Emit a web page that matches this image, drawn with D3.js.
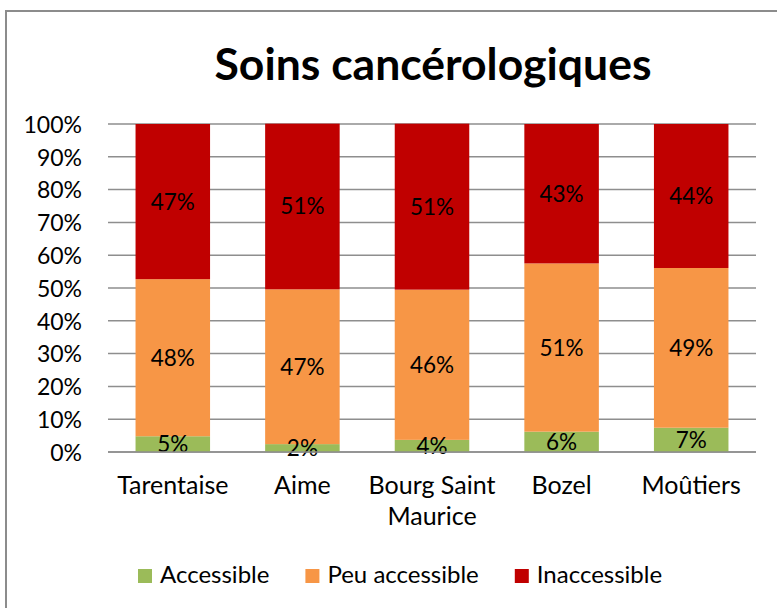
<!DOCTYPE html>
<html>
<head>
<meta charset="utf-8">
<script src="https://cdn.jsdelivr.net/npm/d3@7"></script>
<style>
  body { margin: 0; background: #ffffff; }
  svg { display: block; font-family: Lato, "Open Sans", sans-serif; }
</style>
</head>
<body>
<svg id="chart" width="777" height="608"></svg>
<script>
// data (percent of each area)
const categories = ['Tarentaise', 'Aime', 'Bourg Saint Maurice', 'Bozel', 'Moûtiers']
const accessible = [4.8, 2.4, 3.7, 6.2, 7.4]
const peuAccessible = [47.9, 47.2, 45.8, 51.3, 48.7]
const inaccessible = [47.3, 50.5, 50.6, 42.5, 43.9]
const seriesNames = ['Accessible', 'Peu accessible', 'Inaccessible']
const seriesColors = ['#9bbb59', '#f79646', '#c00000']
const yTicks = [0, 10, 20, 30, 40, 50, 60, 70, 80, 90, 100]
const title = 'Soins cancérologiques'

const svg = d3.select('#chart')
const plotLeft = 108, plotRight = 756, plotTop = 124, plotBottom = 452

// chart frame
svg.append('rect')
  .attr('x', 6).attr('y', 11).attr('width', 800).attr('height', 640)
  .attr('fill', 'none').attr('stroke', '#8c8c8c').attr('stroke-width', 2)

svg.append('text')
  .attr('x', 433).attr('y', 80)
  .attr('text-anchor', 'middle')
  .style('font-size', '44.5px').style('font-weight', 'bold')
  .text(title)

let x = d3.scaleBand().domain(categories).range([plotLeft, plotRight])
  .paddingInner(0.425).paddingOuter(0.2125)
let y = d3.scaleLinear().domain([0, 100]).range([plotBottom, plotTop])

// gridlines
svg.append('g').selectAll('line').data(yTicks).join('line')
  .attr('x1', plotLeft).attr('x2', plotRight)
  .attr('y1', d => y(d)).attr('y2', d => y(d))
  .attr('stroke', '#8e8e8e').attr('stroke-width', 1.5)

let yAxis = svg.append('g')
  .attr('transform', `translate(${plotLeft},0)`)
  .call(d3.axisLeft(y).tickValues(yTicks).tickSize(0).tickPadding(26)
    .tickFormat(d => d + '%'))
yAxis.select('.domain').remove()
yAxis.selectAll('text')
  .style('font-size', '23px').style('font-family', 'Lato')
  .attr('dy', '0.36em').attr('fill', '#000')

let rows = categories.map((c, i) => ({
  cat: c, Accessible: accessible[i], 'Peu accessible': peuAccessible[i], Inaccessible: inaccessible[i]
}))
let stacked = d3.stack().keys(seriesNames)(rows)

let groups = svg.append('g').selectAll('g').data(stacked).join('g')
  .attr('fill', (d, i) => seriesColors[i])
groups.selectAll('rect').data(d => d).join('rect')
  .attr('x', d => x(d.data.cat))
  .attr('width', x.bandwidth())
  .attr('y', d => y(d[1]))
  .attr('height', d => y(d[0]) - y(d[1]))

// data labels
svg.append('g').selectAll('g').data(stacked).join('g')
  .selectAll('text').data(d => d.map(v => ({ v, key: d.key }))).join('text')
  .attr('x', d => x(d.v.data.cat) + x.bandwidth() / 2)
  .attr('y', d => (y(d.v[0]) + y(d.v[1])) / 2 + 8)
  .attr('text-anchor', 'middle')
  .style('font-size', '22.5px')
  .text(d => Math.round(d.v.data[d.key]) + '%')

// axis line at 0
svg.append('line')
  .attr('x1', plotLeft).attr('x2', plotRight).attr('y1', y(0)).attr('y2', y(0))
  .attr('stroke', '#8e8e8e').attr('stroke-width', 1.5)

// category labels, wrapped like the original
let catLines = { 'Bourg Saint Maurice': ['Bourg Saint', 'Maurice'] }
svg.append('g').selectAll('text').data(categories).join('text')
  .attr('x', d => x(d) + x.bandwidth() / 2)
  .attr('y', 494)
  .attr('text-anchor', 'middle')
  .style('font-size', '25px')
  .each(function (d) {
    let lines = catLines[d] || [d]
    d3.select(this).selectAll('tspan').data(lines).join('tspan')
      .attr('x', x(d) + x.bandwidth() / 2)
      .attr('dy', (l, i) => i === 0 ? 0 : 31)
      .text(l => l)
  })

// legend
let legend = svg.append('g')
let lx = 138
seriesNames.forEach((name, i) => {
  legend.append('rect')
    .attr('x', lx).attr('y', 569).attr('width', 14).attr('height', 14)
    .attr('fill', seriesColors[i])
  let t = legend.append('text')
    .attr('x', lx + 22).attr('y', 583)
    .style('font-size', '24px')
    .text(name)
  lx += 22 + t.node().getComputedTextLength() + 36
})
</script>
</body>
</html>
